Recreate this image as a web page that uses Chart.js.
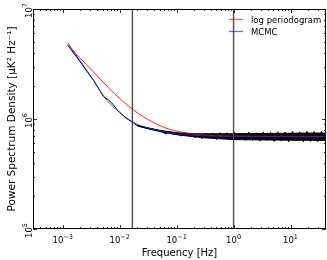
<!DOCTYPE html>
<html>
<head>
<meta charset="UTF-8">
<title>Power Spectrum Density</title>
<script src="https://cdn.jsdelivr.net/npm/chart.js"></script>
<style>
  body { margin: 0; background: #fff; }
  #wrap { width: 327px; height: 260px; }
</style>
</head>
<body>
<div id="wrap"><canvas id="psd" width="327" height="260"></canvas></div>
<script>
  // axis limits
  const xMin = 3.03e-4, xMax = 42;
  const yMin = 1e5, yMax = 1e7;
  const xTickExp = [-3, -2, -1, 0, 1];
  const yTickExp = [5, 6, 7];
  const vLines = [0.0167, 1.0];

  // log periodogram (red)
  const redF = [0.001214, 0.003467, 0.006808, 0.01021, 0.01746, 0.03917, 0.07691, 0.1510, 0.2917, 0.869, 42];
  const redP = [4.71e6, 2.675e6, 1.854e6, 1.52e6, 1.207e6, 9.30e5, 8.03e5, 7.46e5, 7.15e5, 7.01e5, 6.96e5];

  // MCMC (blue)
  const mcmcF = [0.001214, 0.002028, 0.003467, 0.0052, 0.006808, 0.008933, 0.01249, 0.01746, 0.02582,
    0.03917, 0.07691, 0.1510, 0.2917, 0.869, 42];
  const mcmcP = [4.94e6, 3.37e6, 2.26e6, 1.62e6, 1.37e6, 1.207e6, 1.043e6, 9.30e5, 8.55e5,
    8.06e5, 7.49e5, 7.18e5, 7.04e5, 6.93e5, 6.89e5];

  // raw periodogram (black), smooth low part + noisy part
  const perF = [0.001214, 0.002028, 0.003467, 0.0052, 0.00636, 0.007691, 0.009036, 0.01249, 0.01746,
    0.020, 0.023, 0.027, 0.031, 0.036, 0.042, 0.048, 0.056, 0.065, 0.075, 0.087, 0.10, 0.12, 0.135,
    0.155, 0.18, 0.21, 0.24, 0.28, 0.32, 0.37, 0.43, 0.50, 0.58, 0.67, 0.77, 0.89, 1.03, 1.2, 1.38,
    1.6, 1.85, 2.15, 2.5, 2.9, 3.3, 3.85, 4.45, 5.15, 6.0, 6.9, 8.0, 9.3, 10.8, 12.5, 14.5, 16.8,
    19.4, 22.5, 26, 30, 35, 40, 42];
  const perP = [4.71e6, 3.3e6, 2.24e6, 1.60e6, 1.49e6, 1.355e6, 1.207e6, 1.032e6, 9.2e5,
    8.75e5, 8.5e5, 8.4e5, 8.2e5, 8.2e5, 7.85e5, 7.9e5, 7.6e5, 7.3e5, 7.65e5, 7.3e5, 7.5e5, 7.0e5, 7.4e5,
    7.05e5, 7.4e5, 6.75e5, 7.4e5, 6.6e5, 7.45e5, 6.7e5, 7.45e5, 6.5e5, 7.5e5, 6.6e5, 7.5e5, 6.45e5, 7.55e5,
    6.5e5, 7.45e5, 6.4e5, 7.6e5, 6.35e5, 7.5e5, 6.3e5, 7.6e5, 6.4e5, 7.55e5, 6.25e5, 7.65e5, 6.3e5, 7.6e5,
    6.2e5, 7.7e5, 6.3e5, 7.65e5, 6.2e5, 7.75e5, 6.25e5, 7.7e5, 6.2e5, 7.75e5, 6.3e5, 7.6e5];

  // dense noise band of the periodogram (upper / lower edge)
  const bandF = [0.02, 0.03, 0.05, 0.1, 0.2, 0.3, 0.6, 1, 2, 5, 10, 20, 42];
  const bandHi = [8.8e5, 8.35e5, 7.9e5, 7.5e5, 7.35e5, 7.33e5, 7.34e5, 7.35e5, 7.37e5, 7.4e5, 7.42e5, 7.45e5, 7.45e5];
  const bandLo = [8.7e5, 8.2e5, 7.7e5, 7.2e5, 6.9e5, 6.75e5, 6.6e5, 6.5e5, 6.47e5, 6.44e5, 6.42e5, 6.4e5, 6.4e5];

  const pts = (xs, ys) => xs.map((x, i) => ({ x: x, y: ys[i] }));
  const FONT = "'DejaVu Sans', sans-serif";

  function drawPow(ctx, exp, cx, base) {
    const e = String(exp).replace('-', '\u2212');
    ctx.font = '8.5px ' + FONT;
    const w1 = ctx.measureText('10').width;
    ctx.font = '6.5px ' + FONT;
    const w2 = ctx.measureText(e).width;
    const x0 = cx - (w1 + w2) / 2;
    ctx.font = '8.5px ' + FONT;
    ctx.fillText('10', x0, base);
    ctx.font = '6.5px ' + FONT;
    ctx.fillText(e, x0 + w1, base - 4.5);
  }

  const decor = {
    id: 'decor',
    afterDraw(chart) {
      const ctx = chart.ctx;
      const ca = chart.chartArea;
      const xs = chart.scales.x, ys = chart.scales.y;
      ctx.save();
      ctx.strokeStyle = '#000';
      ctx.lineWidth = 1;
      ctx.strokeRect(ca.left + 0.5, ca.top + 0.5, ca.right - ca.left - 1, ca.bottom - ca.top - 1);

      // inward ticks on all sides
      ctx.lineWidth = 0.8;
      ctx.beginPath();
      for (let n = -4; n <= 2; n++) {
        for (let k = 1; k <= 9; k++) {
          const v = k * Math.pow(10, n);
          if (v < xMin || v > xMax) continue;
          const px = Math.round(xs.getPixelForValue(v)) + 0.5;
          const len = k === 1 ? 4 : 2;
          ctx.moveTo(px, ca.bottom); ctx.lineTo(px, ca.bottom - len);
          ctx.moveTo(px, ca.top); ctx.lineTo(px, ca.top + len);
        }
      }
      for (let n = 5; n <= 7; n++) {
        for (let k = 1; k <= 9; k++) {
          const v = k * Math.pow(10, n);
          if (v < yMin || v > yMax) continue;
          const py = Math.round(ys.getPixelForValue(v)) + 0.5;
          const len = k === 1 ? 4 : 2;
          ctx.moveTo(ca.left, py); ctx.lineTo(ca.left + len, py);
          ctx.moveTo(ca.right, py); ctx.lineTo(ca.right - len, py);
        }
      }
      ctx.stroke();

      // tick labels
      ctx.fillStyle = '#000';
      ctx.textBaseline = 'alphabetic';
      xTickExp.forEach(e => drawPow(ctx, e, xs.getPixelForValue(Math.pow(10, e)), 243));
      yTickExp.forEach(e => {
        ctx.save();
        ctx.translate(31.5, ys.getPixelForValue(Math.pow(10, e)) + 1.5);
        ctx.rotate(-Math.PI / 2);
        drawPow(ctx, e, 0, 0);
        ctx.restore();
      });

      // axis titles
      ctx.font = '10px ' + FONT;
      ctx.textAlign = 'center';
      ctx.fillText('Frequency [Hz]', (ca.left + ca.right) / 2, 256);
      ctx.save();
      ctx.translate(15, (ca.top + ca.bottom) / 2);
      ctx.rotate(-Math.PI / 2);
      ctx.font = '10.5px ' + FONT;
      ctx.fillText('Power Spectrum Density [\u03bcK\u00b2 Hz\u207b\u00b9]', 0, 0);
      ctx.restore();

      // legend
      ctx.textAlign = 'left';
      ctx.font = '8.5px ' + FONT;
      ctx.lineWidth = 1.2;
      ctx.strokeStyle = 'rgba(255,0,0,0.6)';
      ctx.beginPath(); ctx.moveTo(229, 19.5); ctx.lineTo(243, 19.5); ctx.stroke();
      ctx.strokeStyle = 'rgba(0,0,255,0.6)';
      ctx.beginPath(); ctx.moveTo(229, 31.5); ctx.lineTo(243, 31.5); ctx.stroke();
      ctx.fillText('log periodogram', 251, 23);
      ctx.fillText('MCMC', 251, 35);
      ctx.restore();
    }
  };

  const vlineSets = vLines.map(f => ({
    data: [{ x: f, y: yMin }, { x: f, y: yMax }],
    borderColor: '#4a4a4a',
    borderWidth: 1.4,
    pointRadius: 0,
    order: 2
  }));

  new Chart(document.getElementById('psd'), {
    type: 'line',
    data: {
      datasets: [
        { data: pts(bandF, bandHi), borderColor: '#000', borderWidth: 1, pointRadius: 0, fill: false, order: 5 },
        { data: pts(bandF, bandLo), borderColor: '#000', borderWidth: 1, pointRadius: 0, fill: '-1', backgroundColor: '#000', order: 4 },
        { data: pts(perF, perP), borderColor: '#000', borderWidth: 1, pointRadius: 0, order: 3 },
        ...vlineSets,
        { label: 'log periodogram', data: pts(redF, redP), borderColor: 'rgba(255,0,0,0.85)', borderWidth: 1,
          pointRadius: 0, cubicInterpolationMode: 'monotone', order: 1 },
        { label: 'MCMC', data: pts(mcmcF, mcmcP), borderColor: 'rgba(30,40,230,0.8)', borderWidth: 1,
          pointRadius: 0, cubicInterpolationMode: 'monotone', order: 0 }
      ]
    },
    options: {
      responsive: false,
      animation: false,
      devicePixelRatio: 1,
      layout: { padding: { left: 33, top: 9, right: 1, bottom: 31 } },
      plugins: { legend: { display: false }, tooltip: { enabled: false } },
      scales: {
        x: { type: 'logarithmic', min: xMin, max: xMax, display: false },
        y: { type: 'logarithmic', min: yMin, max: yMax, display: false }
      }
    },
    plugins: [decor]
  });
</script>
</body>
</html>
